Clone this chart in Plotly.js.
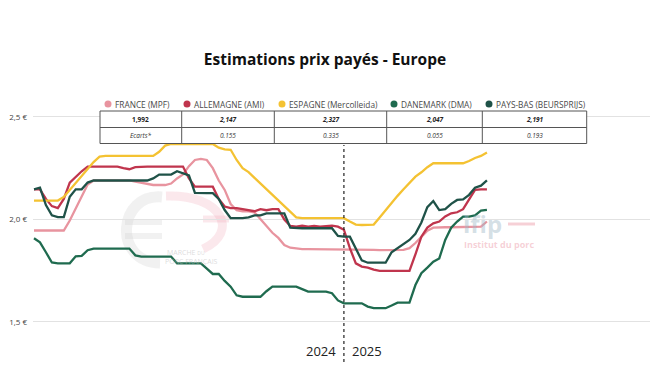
<!DOCTYPE html>
<html>
<head>
<meta charset="utf-8">
<script src="https://cdn.plot.ly/plotly-3.0.1.min.js"></script>
<style>html,body{margin:0;padding:0;background:#fff;}#chart{width:650px;height:366px;}</style>
</head>
<body>
<div id="chart"></div>
<script>
// ---- Data (weekly, 2024 W1 .. 2025 W25) ----
const weeks = Array.from({length: 77}, (_, i) => i);
const seriesNames = ['FRANCE (MPF)', 'ALLEMAGNE (AMI)', 'ESPAGNE (Mercolleida)', 'DANEMARK (DMA)', 'PAYS-BAS (BEURSPRIJS)'];
const seriesColors = ['#e8949f', '#c0354d', '#f4c232', '#1f6b4f', '#1f5248'];

const france = [1.946,1.946,1.946,1.946,1.946,1.946,
  1.995,2.054,2.112,2.17,
  2.19,2.19,2.19,2.19,2.19,2.19,2.19,
  2.185,2.18,2.175,
  2.168,2.168,2.168,
  2.175,2.2,2.22,2.26,2.29,2.295,2.29,
  2.25,2.19,2.144,2.075,2.045,2.04,2.04,2.035,
  2.0,1.965,1.935,1.91,1.875,1.862,1.858,
  1.855,1.855,1.855,1.855,1.855,1.855,1.855,1.855,
  1.855,1.855,1.852,1.852,1.852,1.85,1.85,1.85,1.85,1.852,
  1.86,1.885,1.915,1.945,1.96,
  1.962,1.962,1.962,1.962,1.962,1.962,1.962,
  1.965,1.99];

const allemagne = [2.147,2.147,2.1,2.065,2.055,2.1,
  2.18,2.21,2.235,2.258,
  2.258,2.258,2.258,2.258,2.258,2.25,2.245,2.255,2.258,2.258,
  2.258,2.258,2.258,2.258,2.258,2.258,
  2.2,2.16,2.16,2.16,2.16,2.1,2.063,2.055,2.055,2.05,
  2.046,2.04,2.05,2.045,2.05,2.05,2.0,1.968,1.965,1.97,
  1.965,1.968,1.965,1.968,1.97,1.965,1.95,1.86,1.786,1.77,
  1.765,1.755,1.749,1.749,1.749,1.749,1.749,1.749,1.83,1.916,
  1.96,1.981,1.99,2.015,2.03,2.035,2.05,2.1,2.144,2.147,2.147];

const espagne = [2.092,2.092,2.092,2.092,2.092,2.11,
  2.145,2.18,2.21,2.245,2.28,2.306,
  2.31,2.31,2.31,2.31,2.31,2.31,2.31,2.31,2.31,
  2.33,2.36,2.368,2.368,2.368,2.368,2.368,2.368,2.368,2.368,
  2.35,2.342,2.34,2.29,2.25,
  2.231,2.203,2.175,2.146,2.12,2.094,2.066,2.038,2.01,
  2.006,2.006,2.006,2.006,2.006,2.006,2.006,2.006,
  1.99,1.975,1.973,1.973,1.975,2.01,2.046,2.08,2.115,2.147,
  2.18,2.209,2.23,2.255,2.274,
  2.274,2.274,2.274,2.274,2.274,
  2.285,2.3,2.31,2.327];

const danemark = [1.908,1.888,1.84,1.79,1.786,1.786,1.786,1.82,1.822,1.85,
  1.858,1.858,1.858,1.858,1.858,1.858,1.858,
  1.825,1.819,1.819,1.819,1.819,1.819,1.819,
  1.786,1.786,1.786,1.786,1.786,1.76,1.734,1.734,1.7,1.672,
  1.63,1.623,1.623,1.623,1.623,1.65,1.672,1.672,1.672,1.672,1.672,
  1.66,1.648,1.648,1.648,1.648,1.64,1.605,1.591,1.591,1.591,1.591,
  1.575,1.567,1.567,1.567,1.58,1.594,1.594,1.594,
  1.68,1.738,1.765,1.794,1.81,1.9,1.96,1.99,2.014,2.014,2.02,2.043,2.047];

const paysBas = [2.147,2.155,2.07,2.02,2.011,2.011,
  2.111,2.147,2.147,2.18,
  2.19,2.19,2.19,2.19,2.19,2.19,2.19,2.19,2.19,
  2.19,2.2,2.219,2.219,2.219,2.235,2.225,2.215,
  2.13,2.128,2.128,2.128,2.1,2.046,2.006,2.006,2.006,
  2.01,2.02,2.02,2.03,2.03,2.03,2.03,
  1.96,1.957,1.957,1.957,1.957,1.957,1.957,1.957,
  1.92,1.916,1.916,1.86,1.8,1.789,1.789,1.789,1.789,
  1.84,1.86,1.884,1.9,1.93,
  1.985,2.06,2.09,2.046,2.05,2.076,2.095,2.098,2.12,2.155,2.165,2.19];

const lastValues = ['1,992', '2,147', '2,327', '2,047', '2,191'];
const ecarts = ['Ecarts*', '0.155', '0.335', '0.055', '0.193'];
const yTickVals = [1.5, 2.0, 2.5];
const yTickText = ['1,5 €', '2,0 €', '2,5 €'];
const yearLabels = ['2024', '2025'];
const yearBoundary = 52;

// ---- Layout helpers (pixel -> paper) ----
const W = 650, H = 366, ML = 33, MR = 0, MT = 95, MB = 26;
const PW = W - ML - MR, PH = H - MT - MB;
const px = x => (x - ML) / PW;
const py = y => (H - MB - y) / PH;

const allSeries = [france, allemagne, espagne, danemark, paysBas];
const traces = allSeries.map((s, k) => ({
  x: weeks, y: s, type: 'scatter', mode: 'lines', name: seriesNames[k],
  line: {color: seriesColors[k], width: 2.3}, showlegend: false, hoverinfo: 'skip'
}));

const shapes = [];
const annotations = [];

// watermark left (€ logo)
const wmGray = 'rgba(205,205,205,0.28)';
const wmPink = 'rgba(240,160,175,0.24)';
shapes.push({type:'path', xref:'paper', yref:'paper', layer:'below',
  path:`M ${px(162)},${py(197)} C ${px(118)},${py(193)} ${px(112)},${py(262)} ${px(160)},${py(263)}`,
  line:{color:wmGray, width:11}});
shapes.push({type:'line', xref:'paper', yref:'paper', layer:'below', x0:px(125), x1:px(162), y0:py(222), y1:py(222), line:{color:wmGray, width:6}});
shapes.push({type:'line', xref:'paper', yref:'paper', layer:'below', x0:px(125), x1:px(162), y0:py(236), y1:py(236), line:{color:wmGray, width:6}});
shapes.push({type:'path', xref:'paper', yref:'paper', layer:'below',
  path:`M ${px(166)},${py(196)} C ${px(222)},${py(194)} ${px(240)},${py(232)} ${px(203)},${py(249)}`,
  line:{color:wmPink, width:9}});
shapes.push({type:'line', xref:'paper', yref:'paper', layer:'below', x0:px(203), x1:px(229), y0:py(219), y1:py(219), line:{color:wmPink, width:7}});
annotations.push({xref:'paper', yref:'paper', x:px(165), y:py(252), xanchor:'left', yanchor:'middle', showarrow:false,
  text:'MARCHE <span style="font-size:5px">DU</span>', font:{family:'Open Sans', size:7, color:'rgba(190,190,190,0.55)'}});
annotations.push({xref:'paper', yref:'paper', x:px(163), y:py(261), xanchor:'left', yanchor:'middle', showarrow:false,
  text:'PORC FRANÇAIS', font:{family:'Open Sans', size:7, color:'rgba(190,190,190,0.55)'}});
// watermark right (ifip)
annotations.push({xref:'paper', yref:'paper', x:px(461), y:py(223), xanchor:'left', yanchor:'middle', showarrow:false,
  text:'<b>ifip</b>', font:{family:'Open Sans', size:24, color:'rgba(160,185,200,0.45)'}});
shapes.push({type:'line', xref:'paper', yref:'paper', layer:'below', x0:px(508), x1:px(535), y0:py(224), y1:py(224), line:{color:'rgba(235,150,165,0.45)', width:3}});
annotations.push({xref:'paper', yref:'paper', x:px(462), y:py(244), xanchor:'left', yanchor:'middle', showarrow:false,
  text:'<b>Institut du porc</b>', font:{family:'Open Sans', size:9, color:'rgba(235,150,165,0.45)'}});

// year separator
shapes.push({type:'line', xref:'x', yref:'paper', x0:yearBoundary, x1:yearBoundary, y0:py(362), y1:py(145),
  line:{color:'#222', width:1.2, dash:'dot'}});
annotations.push({xref:'x', yref:'paper', x:yearBoundary, y:py(351), xanchor:'right', yanchor:'middle', xshift:-6, showarrow:false,
  text:yearLabels[0], font:{family:'Open Sans', size:13, color:'#222'}});
annotations.push({xref:'x', yref:'paper', x:yearBoundary, y:py(351), xanchor:'left', yanchor:'middle', xshift:6, showarrow:false,
  text:yearLabels[1], font:{family:'Open Sans', size:13, color:'#222'}});

// legend (custom)
const legCircleX = [108, 187, 282, 394, 489];
seriesNames.forEach((n, k) => {
  shapes.push({type:'circle', xref:'paper', yref:'paper', xsizemode:'pixel', ysizemode:'pixel',
    xanchor:px(legCircleX[k]), yanchor:py(104), x0:-3.5, x1:3.5, y0:-3.5, y1:3.5,
    fillcolor:seriesColors[k], line:{width:0}});
  annotations.push({xref:'paper', yref:'paper', x:px(legCircleX[k] + 5), y:py(104), xanchor:'left', yanchor:'middle',
    showarrow:false, text:n, font:{family:'Open Sans', size:8.3, color:'#4a4a4a'}});
});

// table
const colEdges = [100, 181.7, 274.3, 386.7, 482.3, 586.7];
const rowEdges = [111, 127.5, 143.5];
shapes.push({type:'rect', xref:'paper', yref:'paper', x0:px(colEdges[0]), x1:px(colEdges[5]), y0:py(rowEdges[2]), y1:py(rowEdges[0]),
  fillcolor:'#fff', line:{color:'#555', width:1}});
shapes.push({type:'line', xref:'paper', yref:'paper', x0:px(colEdges[0]), x1:px(colEdges[5]), y0:py(rowEdges[1]), y1:py(rowEdges[1]),
  line:{color:'#555', width:1}});
for (let c = 1; c < 5; c++) {
  shapes.push({type:'line', xref:'paper', yref:'paper', x0:px(colEdges[c]), x1:px(colEdges[c]), y0:py(rowEdges[2]), y1:py(rowEdges[0]),
    line:{color:'#555', width:1}});
}
for (let c = 0; c < 5; c++) {
  const cx = (colEdges[c] + colEdges[c + 1]) / 2;
  annotations.push({xref:'paper', yref:'paper', x:px(cx), y:py((rowEdges[0] + rowEdges[1]) / 2), xanchor:'center', yanchor:'middle',
    showarrow:false, text: c === 0 ? '<b>' + lastValues[c] + '</b>' : '<b><i>' + lastValues[c] + '</i></b>',
    font:{family:'Open Sans', size:6.5, color:'#222'}});
  annotations.push({xref:'paper', yref:'paper', x:px(cx), y:py((rowEdges[1] + rowEdges[2]) / 2), xanchor:'center', yanchor:'middle',
    showarrow:false, text:'<i>' + ecarts[c] + '</i>', font:{family:'Open Sans', size:6.5, color:'#333'}});
}

const layout = {
  width: W, height: H,
  margin: {l: ML, r: MR, t: MT, b: MB},
  paper_bgcolor: '#fff', plot_bgcolor: '#fff',
  title: {text: '<b>Estimations prix payés - Europe</b>', x: 0.5, xanchor: 'center', y: 1 - 60 / H, yanchor: 'middle',
    font: {family: 'Open Sans', size: 15.5, color: '#111'}},
  showlegend: false,
  xaxis: {range: [-0.168, 103.36], showgrid: false, zeroline: false, showticklabels: false, showline: false, fixedrange: true},
  yaxis: {range: [1.412, 2.607], tickvals: yTickVals, ticktext: yTickText, showgrid: true, gridcolor: '#e2e2e2', gridwidth: 1,
    zeroline: false, showline: false, ticks: '', ticklabelstandoff: 5, tickfont: {family: 'Open Sans', size: 8, color: '#444'}, fixedrange: true},
  shapes: shapes,
  annotations: annotations
};

Plotly.newPlot('chart', traces, layout, {staticPlot: true, displayModeBar: false});
</script>
</body>
</html>
